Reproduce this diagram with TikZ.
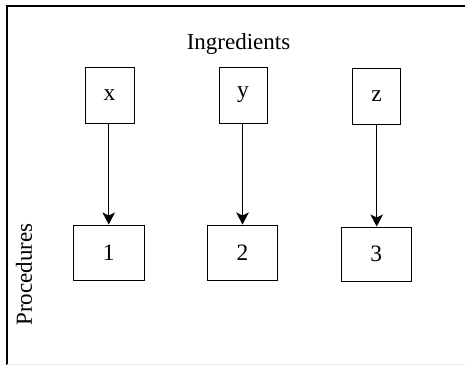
\documentclass[tikz,border=0pt]{standalone}
\usepackage{fontspec}
\setmainfont{Liberation Serif}
\usetikzlibrary{arrows.meta}
\begin{document}
\begin{tikzpicture}[x=1pt,y=-1pt,
  box/.style={draw,line width=1pt,inner sep=0pt,font=\fontsize{23.5}{27}\selectfont},
  lbl/.style={inner sep=0pt,font=\fontsize{23}{27}\selectfont},
  link/.style={line width=0.9pt,-{Stealth[length=12pt,width=12.5pt,inset=3pt]}}]
\useasboundingbox (0,0) rectangle (465,365);
% frame
\draw[line width=2pt] (6.5,365) -- (6.5,5.5) -- (465,5.5);
\draw[black!8,line width=0.8pt] (7,364.2) -- (465,364.2);
% headings
\node[lbl] (ing) at (238.5,44) {Ingredients};
\node[lbl,rotate=90] (proc) at (24,274.5) {Procedures};
% ingredient boxes
\node[box,minimum width=49pt,minimum height=56pt] (x) at (109.5,95) {x};
\node[box,minimum width=48pt,minimum height=56pt] (y) at (243,95) {y};
\node[box,minimum width=48pt,minimum height=56pt] (z) at (376.7,96) {z};
% procedure boxes
\node[box,minimum width=71pt,minimum height=55pt] (p1) at (108.7,252.5) {1};
\node[box,minimum width=70pt,minimum height=55pt] (p2) at (242.5,252.5) {2};
\node[box,minimum width=70pt,minimum height=54pt] (p3) at (376.3,254) {3};
% connectors
\draw[link] (x.south -| p1.north) -- (p1.north);
\draw[link] (y.south -| p2.north) -- (p2.north);
\draw[link] (z.south) -- (z.south |- p3.north);
\end{tikzpicture}
\end{document}
